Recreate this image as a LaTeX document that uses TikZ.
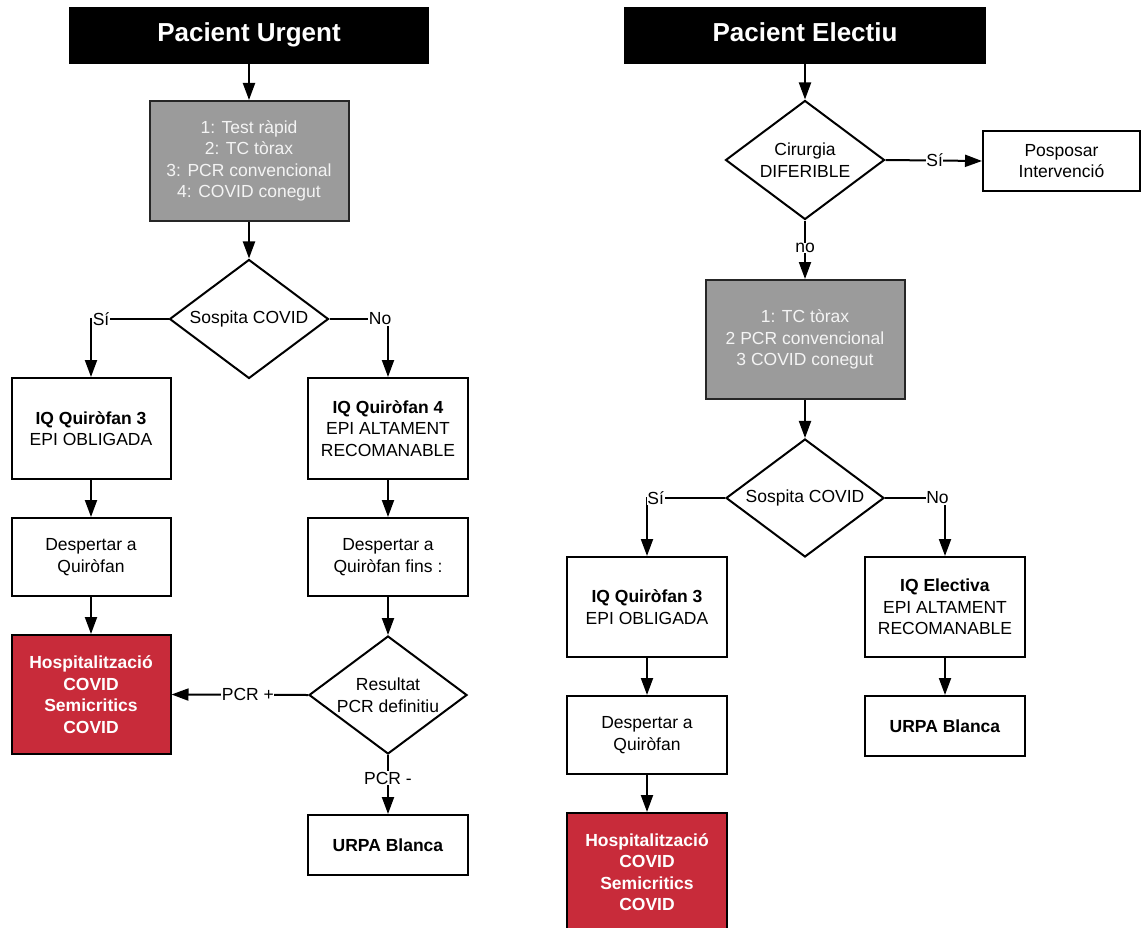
\documentclass[tikz,border=0pt]{standalone}
\usepackage{fontspec}
\setmainfont{Liberation Sans}
\usetikzlibrary{shapes.geometric,arrows.meta}
\definecolor{boxgray}{HTML}{9B9B9B}
\definecolor{boxtxt}{HTML}{F4F4F4}
\definecolor{covidred}{HTML}{C82B3A}
\begin{document}
\begin{tikzpicture}[x=1pt,y=-1pt,
  txt/.style={font=\fontsize{17.5}{21.5}\selectfont},
  sz/.style 2 args={minimum width=#1, minimum height=#2},
  titlebox/.style={draw=black, fill=black, text=white, inner sep=0pt, text height=19pt, text depth=6pt, font=\fontsize{26}{30}\selectfont\bfseries},
  wbox/.style={txt, draw=black, line width=2pt, fill=white, inner sep=0pt, align=center},
  gbox/.style={txt, draw=black!85, line width=2pt, fill=boxgray, text=boxtxt, inner sep=0pt, align=center},
  rbox/.style={txt, draw=black, line width=2pt, fill=covidred, text=white, inner sep=0pt, align=center, font=\fontsize{17.5}{21.5}\selectfont\bfseries},
  dia/.style={txt, shape=diamond, draw=black, line width=2pt, fill=white, inner sep=0pt, aspect=1.33, align=center},
  arr/.style={line width=2pt, -{Triangle[length=17pt,width=12pt]}},
  lbl/.style={txt, fill=white, inner sep=0.5pt}
]
\useasboundingbox (0,0) rectangle (1142,928);

% ---------- Pacient Urgent ----------
\node[titlebox, sz={359pt}{56pt}] (t1) at (249,35) {Pacient Urgent};
\node[gbox, sz={199pt}{120pt}] (g1) at (249,161) {1: Test ràpid\\2: TC tòrax\\3: PCR convencional\\4: COVID conegut};
\node[dia, minimum width=159pt, minimum height=119pt] (d1) at (249,319) {Sospita COVID};
\node[wbox, sz={159pt}{101pt}] (iq3) at (91,428.5) {\textbf{IQ Quiròfan 3}\\EPI OBLIGADA};
\node[wbox, sz={160pt}{101pt}] (iq4) at (388,428.5) {\textbf{IQ Quiròfan 4}\\EPI ALTAMENT\\RECOMANABLE};
\node[wbox, sz={159pt}{78pt}] (dw1) at (91,557) {Despertar a\\Quiròfan};
\node[wbox, sz={160pt}{78pt}] (dw2) at (388,557) {Despertar a\\Quiròfan fins :};
\node[rbox, sz={159pt}{119pt}] (h1) at (91,694.5) {Hospitalització\\COVID\\Semicritics\\COVID};
\node[dia, minimum width=158pt, minimum height=118pt] (d2) at (388,695) {Resultat\\PCR definitiu};
\node[wbox, sz={160pt}{60pt}] (u1) at (388,845) {\textbf{URPA Blanca}};

\draw[arr] (t1) -- (g1);
\draw[arr] (g1) -- (d1);
\draw[arr] (d1.west) -| node[lbl, pos=0.435] {Sí} (iq3.north);
\draw[arr] (d1.east) -| node[lbl, pos=0.432] {No} (iq4.north);
\draw[arr] (iq3) -- (dw1);
\draw[arr] (iq4) -- (dw2);
\draw[arr] (dw1) -- (h1);
\draw[arr] (dw2) -- (d2);
\draw[arr] (d2.west) -- node[lbl, pos=0.44] {PCR +} (h1.east);
\draw[arr] (d2.south) -- node[lbl, pos=0.39] {PCR -} (u1.north);

% ---------- Pacient Electiu ----------
\node[titlebox, sz={361pt}{56pt}] (t2) at (805,35) {Pacient Electiu};
\node[dia, minimum width=159pt, minimum height=119pt] (d3) at (805,160) {Cirurgia\\DIFERIBLE};
\node[wbox, sz={157pt}{60pt}] (pp) at (1061.5,161) {Posposar\\Intervenció};
\node[gbox, sz={199pt}{119pt}] (g2) at (805,339.5) {1: TC tòrax\\2 PCR convencional\\3 COVID conegut};
\node[dia, minimum width=158pt, minimum height=118pt] (d4) at (805,498) {Sospita COVID};
\node[wbox, sz={160pt}{100pt}] (iq3b) at (647,607) {\textbf{IQ Quiròfan 3}\\EPI OBLIGADA};
\node[wbox, sz={160pt}{100pt}] (iqe) at (945,607) {\textbf{IQ Electiva}\\EPI ALTAMENT\\RECOMANABLE};
\node[wbox, sz={160pt}{78pt}] (dw3) at (647,735) {Despertar a\\Quiròfan};
\node[wbox, sz={160pt}{60pt}] (u2) at (945,726) {\textbf{URPA Blanca}};
\node[rbox, sz={160pt}{118pt}] (h2) at (647,872) {Hospitalització\\COVID\\Semicritics\\COVID};

\draw[arr] (t2) -- (d3);
\draw[arr] (d3.east) -- node[lbl, pos=0.51] {Sí} (pp.west);
\draw[arr] (d3.south) -- node[lbl, pos=0.47] {no} (g2.north);
\draw[arr] (g2) -- (d4);
\draw[arr] (d4.west) -| node[lbl, pos=0.444] {Sí} (iq3b.north);
\draw[arr] (d4.east) -| node[lbl, pos=0.4375] {No} (iqe.north);
\draw[arr] (iq3b) -- (dw3);
\draw[arr] (iqe) -- (u2);
\draw[arr] (dw3) -- (h2);
\end{tikzpicture}
\end{document}
